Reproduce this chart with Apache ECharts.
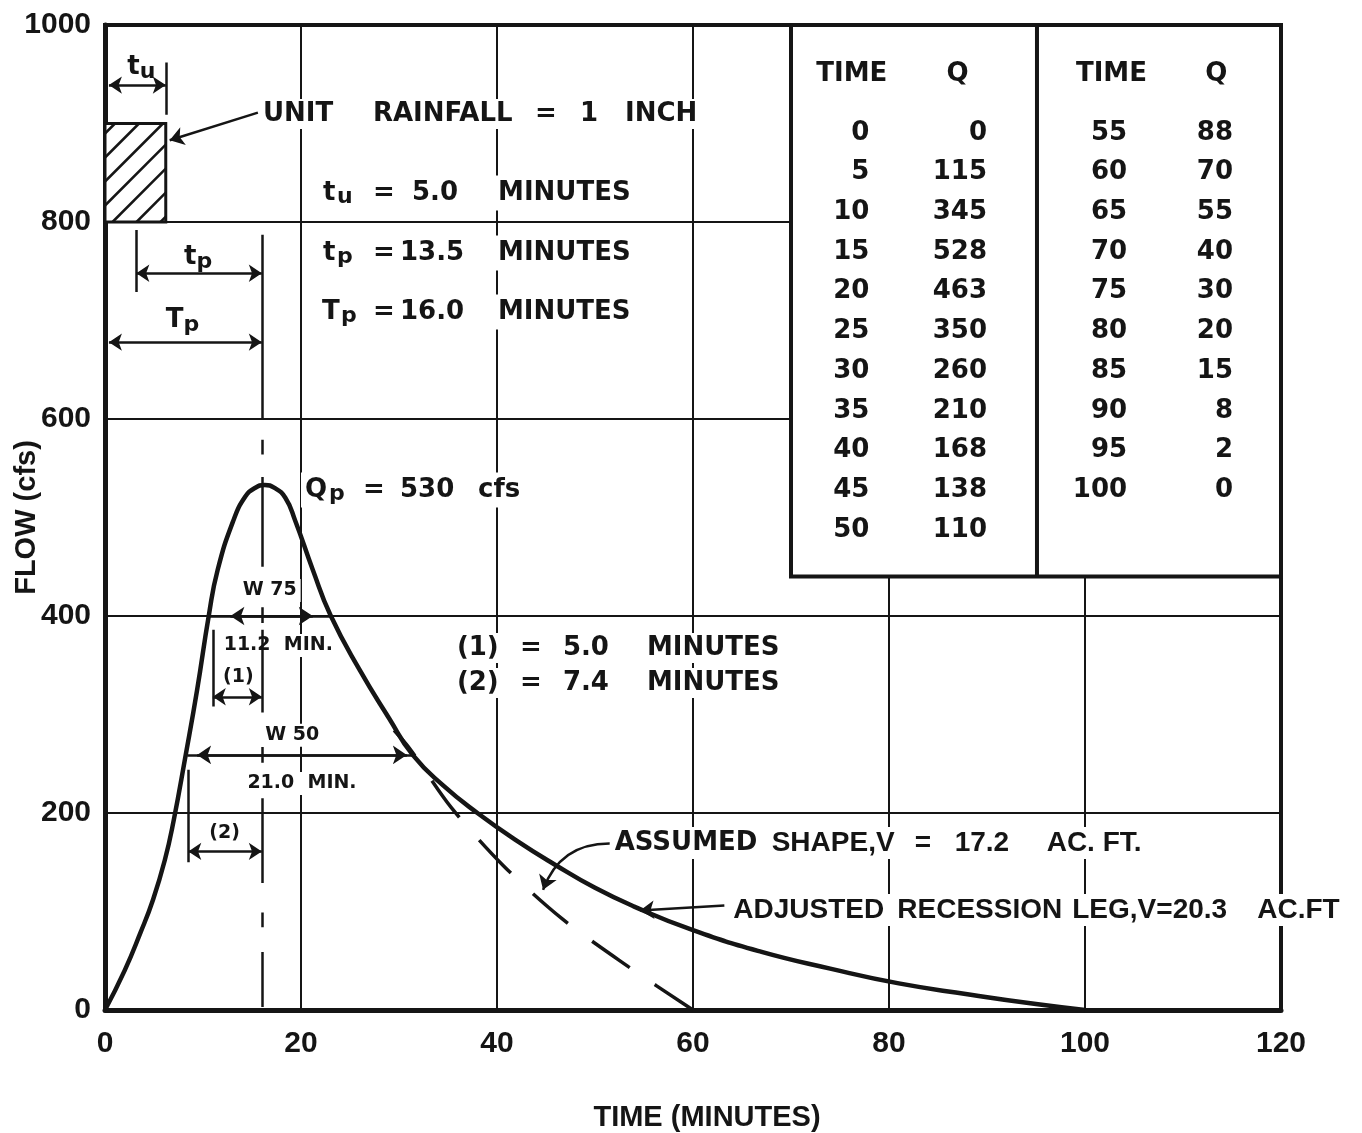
<!DOCTYPE html>
<html>
<head>
<meta charset="utf-8">
<script src="https://cdn.jsdelivr.net/npm/echarts/dist/echarts.min.js"></script>
<style>html,body{margin:0;padding:0;background:#fff}#c{width:1362px;height:1133px}</style>
</head>
<body>
<div id="c"></div>
<script>
// ---------- data ----------
const xTicks = [0, 20, 40, 60, 80, 100, 120];
const xTickLabels = ['0', '20', '40', '60', '80', '100', '120'];
const yTicks = [0, 200, 400, 600, 800, 1000];
const yTickLabels = ['0', '200', '400', '600', '800', '1000'];

// table printed in the chart
const tableTime1 = [0, 5, 10, 15, 20, 25, 30, 35, 40, 45, 50];
const tableQ1    = [0, 115, 345, 528, 463, 350, 260, 210, 168, 138, 110];
const tableTime2 = [55, 60, 65, 70, 75, 80, 85, 90, 95, 100];
const tableQ2    = [88, 70, 55, 40, 30, 20, 15, 8, 2, 0];

// solid hydrograph (adjusted recession leg)
const curveT = [0, 2, 3.6, 4.9, 6.1, 7.0, 8.2, 9.4, 10.6, 11.5, 13.1, 14.3, 15.3, 16.3, 17.3, 18.4, 19.4, 21.2, 23.0, 26.0, 29.0, 31.4, 34.5, 38.0, 42, 46, 50, 54, 60, 67, 74, 81, 88, 95, 100];
const curveQ = [0, 40, 78, 112, 152, 192, 257, 325, 401, 447, 497, 521, 530, 533, 530, 520, 497, 447, 401, 345, 296, 259, 228, 200, 172, 147, 124, 105, 81, 59, 42, 27, 16, 6, 0];

// dashed "assumed shape" recession (listed from its foot upward)
const assumedT = [60, 53.4, 46.6, 40.6, 35.3, 31.2, 29.5];
const assumedQ = [0, 44, 93, 147, 206, 264, 284];

// ---------- annotation geometry (axis units) ----------
const TP = 16.0;
const tpDashQ = [[787,599],[579,564],[541,450],[409,393],[386,302],[267,251],[215,129],[99,84],[59,3]];
const rainBox = [0, 800, 6.2, 900];          // tmin, qmin, tmax, qmax
const tableBox = {left: 70, right: 120, bottom: 440, top: 1000, divider: 95.1};

const INK = '#151515';
const FA = 'DejaVu Sans';
const FH = 'Liberation Sans';

// ---------- helpers ----------
const labelItems = [];
function richRow(t, q, pieces, opt) {
  const rich = {}; let f = '';
  pieces.forEach((p, i) => {
    const [txt, w, kind] = p;
    const name = 'r' + i;
    let base;
    if (kind === 's') base = {fontFamily: FA, fontSize: 22, padding: [9, 0, 0, 0]};
    else if (kind === 'h') base = {fontFamily: FH, fontSize: 28};
    else if (kind === 'small') base = {fontFamily: FA, fontSize: 19};
    else base = {fontFamily: FA, fontSize: 26};
    rich[name] = Object.assign({fontWeight: 'bold', color: INK, opacity: 1}, base, w ? {width: w} : {});
    f += '{' + name + '|' + txt + '}';
  });
  labelItems.push({
    value: [t, q],
    label: Object.assign({
      show: true, formatter: f, rich: rich, position: [0, 0], opacity: 1,
      align: 'left', verticalAlign: 'middle', color: INK,
      backgroundColor: '#fff', padding: [2, 4]
    }, opt || {})
  });
}

// big annotation rows
richRow(15.71, 909.6, [['UNIT', 110], ['RAINFALL', 162], ['=', 45], ['1', 45], ['INCH']]);
richRow(21.84, 829.4, [['t', 14], ['u', 36, 's'], ['=', 39], ['5.0', 86], ['MINUTES']]);
richRow(21.84, 768.5, [['t', 14], ['p', 36, 's'], ['=', 27], ['13.5', 98], ['MINUTES']]);
richRow(21.73, 708.6, [['T', 19], ['p', 32, 's'], ['=', 27], ['16.0', 98], ['MINUTES']]);
richRow(20.0, 527.9, [['Q', 24], ['p', 34, 's'], ['=', 37], ['530', 78], ['cfs']]);
richRow(35.5, 367.5, [['(1)', 63], ['=', 43], ['5.0', 84], ['MINUTES']]);
richRow(35.5, 332.0, [['(2)', 63], ['=', 43], ['7.4', 84], ['MINUTES']]);
richRow(51.6, 169.5, [['ASSUMED', 157], ['SHAPE,V', 143, 'h'], ['=', 40, 'h'], ['17.2', 92, 'h'], ['AC. FT.', 0, 'h']]);
richRow(63.7, 101.5, [['ADJUSTED', 164, 'h'], ['RECESSION', 175, 'h'], ['LEG,V=20.3', 185, 'h'], ['AC.FT', 0, 'h']]);

// small labels (centred)
const C = {align: 'center'};
richRow(3.7, 957, [['t'], ['u', 0, 's']], C);
richRow(9.5, 764, [['t'], ['p', 0, 's']], C);
richRow(7.9, 700, [['T'], ['p', 0, 's']], C);
richRow(16.8, 426, [['W 75', 0, 'small']], C);
richRow(11.7, 370, [['11.2  MIN.', 0, 'small']]);
richRow(13.6, 338, [['(1)', 0, 'small']], C);
richRow(19.1, 279, [['W 50', 0, 'small']], C);
richRow(20.1, 230, [['21.0  MIN.', 0, 'small']], C);
richRow(12.2, 180, [['(2)', 0, 'small']], C);

// table text
const tableItems = [];
function tableText(t, q, txt, align) {
  tableItems.push({value: [t, q], label: {show: true, formatter: txt, position: [0, 0], align: align, verticalAlign: 'middle',
    fontFamily: FA, fontWeight: 'bold', fontSize: 26, color: INK, opacity: 1}});
}
const headQ = 950, row0Q = 890.4, rowStep = 40.3;
tableText(76.2, headQ, 'TIME', 'center');
tableText(87.0, headQ, 'Q', 'center');
tableText(102.7, headQ, 'TIME', 'center');
tableText(113.4, headQ, 'Q', 'center');
tableTime1.forEach((v, i) => { tableText(78.0, row0Q - rowStep * i, String(v), 'right'); tableText(90.0, row0Q - rowStep * i, String(tableQ1[i]), 'right'); });
tableTime2.forEach((v, i) => { tableText(104.3, row0Q - rowStep * i, String(v), 'right'); tableText(115.1, row0Q - rowStep * i, String(tableQ2[i]), 'right'); });

// line annotations
const plainSegs = [
  [[6.2, 962], [6.2, 909]],
  [[3.2, 792], [3.2, 729]],
  [[11.0, 386], [11.0, 308]],
  [[8.5, 244], [8.5, 150]],
  [[10.5, 400], [23.0, 400]],
  [[8.4, 259], [31.4, 259]]
].concat(tpDashQ.map(d => [[TP, d[0]], [TP, d[1]]]));
const bothArrowSegs = [
  [[0.4, 939], [6.2, 939]],
  [[3.2, 748], [TP, 748]],
  [[0.4, 678], [TP, 678]],
  [[11.0, 318], [TP, 318]],
  [[8.5, 161], [TP, 161]]
];
const endArrowSegs = [
  [[TP, 400], [12.8, 400]],
  [[TP, 400], [21.2, 400]],
  [[TP, 259], [9.4, 259]],
  [[TP, 259], [30.8, 259]],
  [[15.6, 911], [6.6, 883]],
  [[63.2, 106], [54.6, 101]]
];
const curvedArrowSegs = [
  [[51.5, 169], [44.7, 122]]
];

const lineBase = {type: 'lines', coordinateSystem: 'cartesian2d', silent: true, z: 9, polyline: false,
  lineStyle: {color: INK, width: 2.5, opacity: 1}};

const chart = echarts.init(document.getElementById('c'), null, {renderer: 'canvas'});
chart.setOption({
  animation: false,
  backgroundColor: '#fff',
  grid: {left: 105, right: 81, top: 25, bottom: 123, show: true, borderColor: INK, borderWidth: 4, backgroundColor: '#fff',
    containLabel: false, outerBoundsMode: 'none'},
  xAxis: {
    type: 'value', min: 0, max: 120, interval: 20,
    axisLine: {show: true, onZero: false, lineStyle: {color: INK, width: 5}},
    axisTick: {show: false},
    axisLabel: {margin: 19, fontFamily: FH, fontWeight: 'bold', fontSize: 30, color: INK,
      formatter: v => xTickLabels[xTicks.indexOf(v)] || ''},
    splitLine: {show: true, lineStyle: {color: INK, width: 2}},
    name: 'TIME (MINUTES)', nameLocation: 'middle', nameGap: 93, nameMoveOverlap: false,
    nameTextStyle: {fontFamily: FH, fontWeight: 'bold', fontSize: 29, color: INK, padding: [0, 0, 0, 28]}
  },
  yAxis: {
    type: 'value', min: 0, max: 1000, interval: 200,
    axisLine: {show: true, onZero: false, lineStyle: {color: INK, width: 5}},
    axisTick: {show: false},
    axisLabel: {margin: 14, fontFamily: FH, fontWeight: 'bold', fontSize: 30, color: INK,
      formatter: v => yTickLabels[yTicks.indexOf(v)] || ''},
    splitLine: {show: true, lineStyle: {color: INK, width: 2}},
    name: 'FLOW (cfs)', nameLocation: 'middle', nameGap: 64, nameRotate: 90, nameMoveOverlap: false,
    nameTextStyle: {fontFamily: FH, fontWeight: 'bold', fontSize: 29, color: INK}
  },
  series: [
    { // rainfall block
      type: 'custom', coordinateSystem: 'cartesian2d', silent: true, z: 3,
      data: [[rainBox[0], rainBox[1]]],
      renderItem: (p, api) => {
        const a = api.coord([rainBox[0], rainBox[3]]), b = api.coord([rainBox[2], rainBox[1]]);
        const x0 = a[0], y0 = a[1], x1 = b[0], y1 = b[1];
        const w = x1 - x0, h = y1 - y0, step = 24;
        const ch = [{type: 'rect', shape: {x: x0, y: y0, width: w, height: h}, style: {fill: '#fff', stroke: INK, lineWidth: 3}}];
        for (let k = -h + 10; k < w; k += step) {
          const sa = Math.max(0, -k), sb = Math.min(h, w - k);
          if (sb <= sa) continue;
          ch.push({type: 'line', shape: {x1: x0 + k + sa, y1: y1 - sa, x2: x0 + k + sb, y2: y1 - sb}, style: {stroke: INK, lineWidth: 2.5}});
        }
        return {type: 'group', children: ch};
      }
    },
    { // table box
      type: 'custom', coordinateSystem: 'cartesian2d', silent: true, z: 4,
      data: [[tableBox.left, tableBox.bottom]],
      renderItem: (p, api) => {
        const a = api.coord([tableBox.left, tableBox.top]), b = api.coord([tableBox.right, tableBox.bottom]);
        const d1 = api.coord([tableBox.divider, tableBox.top]), d2 = api.coord([tableBox.divider, tableBox.bottom]);
        return {type: 'group', children: [
          {type: 'rect', shape: {x: a[0], y: a[1], width: b[0] - a[0], height: b[1] - a[1]}, style: {fill: '#fff', stroke: INK, lineWidth: 4}},
          {type: 'line', shape: {x1: d1[0], y1: d1[1], x2: d2[0], y2: d2[1]}, style: {stroke: INK, lineWidth: 4}}
        ]};
      }
    },
    { // table text
      type: 'scatter', silent: true, z: 5, symbolSize: 0, itemStyle: {opacity: 1}, data: tableItems
    },
    { // annotation text
      type: 'scatter', silent: true, z: 6, symbolSize: 0, itemStyle: {opacity: 1}, data: labelItems
    },
    Object.assign({}, lineBase, {symbol: ['none', 'none'], data: plainSegs.map(c => ({coords: c}))}),
    Object.assign({}, lineBase, {symbol: ['arrow', 'arrow'], symbolSize: 13, data: bothArrowSegs.map(c => ({coords: c}))}),
    Object.assign({}, lineBase, {symbol: ['none', 'arrow'], symbolSize: 14, data: endArrowSegs.map(c => ({coords: c}))}),
    Object.assign({}, lineBase, {symbol: ['none', 'arrow'], symbolSize: 14, lineStyle: {color: INK, width: 2.5, opacity: 1, curveness: -0.35},
      data: curvedArrowSegs.map(c => ({coords: c}))}),
    { // assumed shape (dashed)
      type: 'line', silent: true, z: 10, showSymbol: false, symbol: 'none', smooth: 0.3,
      data: assumedT.map((t, i) => [t, assumedQ[i]]),
      lineStyle: {color: INK, width: 3.5, type: [46, 30]}
    },
    { // hydrograph
      type: 'line', silent: true, z: 11, showSymbol: false, symbol: 'none', smooth: 0.5,
      data: curveT.map((t, i) => [t, curveQ[i]]),
      lineStyle: {color: INK, width: 4.5}
    }
  ]
});
</script>
</body>
</html>
